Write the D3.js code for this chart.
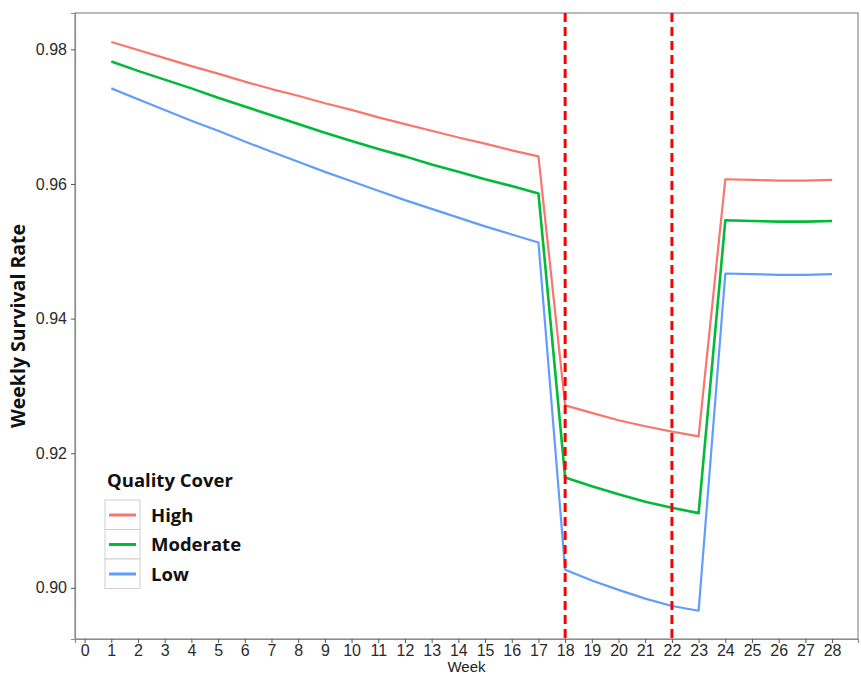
<!DOCTYPE html>
<html>
<head>
<meta charset="utf-8">
<script src="https://cdn.jsdelivr.net/npm/d3@7"></script>
<style>
  body { margin: 0; background: #fff; }
  svg { display: block; }
  .tick text { font-family: "Liberation Sans", Arial, sans-serif; font-size: 16px; fill: #2b2b2b; }
</style>
</head>
<body>
<div id="chart"></div>
<script>
// weeks and survival rates per cover quality
var weeks = d3.range(1, 29);
var high = [0.9811, 0.9799, 0.9787, 0.9775, 0.9764, 0.9752, 0.9741, 0.9731, 0.9720, 0.9710,
    0.9699, 0.9689, 0.9679, 0.9669, 0.9660, 0.9650, 0.9641,
    0.9271, 0.9260, 0.9249, 0.9240, 0.9232, 0.9225,
    0.9607, 0.9606, 0.9605, 0.9605, 0.9606];
var moderate = [0.9782, 0.9768, 0.9755, 0.9742, 0.9728, 0.9715, 0.9702, 0.9689, 0.9676, 0.9664,
    0.9652, 0.9641, 0.9629, 0.9618, 0.9607, 0.9597, 0.9586,
    0.9164, 0.9151, 0.9139, 0.9128, 0.9119, 0.9111,
    0.9546, 0.9545, 0.9544, 0.9544, 0.9545];
var low = [0.9742, 0.9726, 0.9710, 0.9694, 0.9679, 0.9663, 0.9648, 0.9633, 0.9618, 0.9604,
    0.9590, 0.9576, 0.9563, 0.9550, 0.9537, 0.9525, 0.9513,
    0.9027, 0.9011, 0.8997, 0.8984, 0.8973, 0.8966,
    0.9467, 0.9466, 0.9465, 0.9465, 0.9466];
var seriesNames = ["High", "Moderate", "Low"];
var seriesColors = ["#F8766D", "#00BA38", "#619CFF"];
var markerWeeks = [18, 22];
var xTicks = d3.range(0, 29);
var yTicks = [0.90, 0.92, 0.94, 0.96, 0.98];

var W = 861, H = 674;
var panel = {left: 75, right: 858, top: 13, bottom: 639};

var svg = d3.select("#chart").append("svg")
    .attr("width", W).attr("height", H);

var x = d3.scaleLinear().domain([-0.36, 28.97]).range([panel.left, panel.right]);
var y = d3.scaleLinear().domain([0.8924, 0.9854]).range([panel.bottom, panel.top]);

// panel border
svg.append("rect")
    .attr("x", panel.left).attr("y", panel.top)
    .attr("width", panel.right - panel.left)
    .attr("height", panel.bottom - panel.top)
    .attr("fill", "none")
    .attr("stroke", "#8c8c8c")
    .attr("stroke-width", 1.2);

// axes
var xAxis = svg.append("g")
    .attr("transform", "translate(0," + panel.bottom + ")")
    .call(d3.axisBottom(x).tickValues(xTicks).tickSize(4).tickPadding(2).tickFormat(d3.format("d")));
var yAxis = svg.append("g")
    .attr("transform", "translate(" + panel.left + ",0)")
    .call(d3.axisLeft(y).tickValues(yTicks).tickSize(4).tickPadding(4).tickFormat(d3.format(".2f")));
[xAxis, yAxis].forEach(function (a) {
    a.select(".domain").attr("stroke", "#8c8c8c").attr("stroke-width", 1.2);
    a.selectAll(".tick line").attr("stroke", "#555");
});

// series lines
var series = [high, moderate, low];
var line = d3.line()
    .x(function (d, i) { return x(weeks[i]); })
    .y(function (d) { return y(d); });
series.forEach(function (s, i) {
    svg.append("path")
        .datum(s)
        .attr("d", line)
        .attr("fill", "none")
        .attr("stroke", seriesColors[i])
        .attr("stroke-width", i === 1 ? 2.6 : 2.2)
        .attr("stroke-linejoin", "round");
});

// dashed week markers
svg.selectAll(".marker")
    .data(markerWeeks)
    .enter().append("line")
    .attr("class", "marker")
    .attr("x1", function (d) { return x(d); })
    .attr("x2", function (d) { return x(d); })
    .attr("y1", panel.top)
    .attr("y2", panel.bottom)
    .attr("stroke", "#ff0000")
    .attr("stroke-width", 3)
    .attr("stroke-dasharray", "9,5");

// axis titles
svg.append("text")
    .attr("x", (panel.left + panel.right) / 2)
    .attr("y", 672)
    .attr("text-anchor", "middle")
    .style("font-family", "Liberation Sans, Arial, sans-serif")
    .style("font-size", "15px")
    .style("fill", "#222")
    .text("Week");

svg.append("text")
    .attr("transform", "translate(25," + ((panel.top + panel.bottom) / 2) + ") rotate(-90)")
    .attr("text-anchor", "middle")
    .style("font-family", "Open Sans, sans-serif")
    .style("font-weight", "bold")
    .style("font-size", "19.5px")
    .style("fill", "#111")
    .text("Weekly Survival Rate");

// legend
var lg = svg.append("g").attr("transform", "translate(105,470)");
lg.append("text")
    .attr("x", 2).attr("y", 17)
    .style("font-family", "Open Sans, sans-serif")
    .style("font-weight", "bold")
    .style("font-size", "18.5px")
    .style("fill", "#111")
    .text("Quality Cover");
seriesNames.forEach(function (name, i) {
    var gy = 30 + i * 29.5;
    lg.append("rect")
        .attr("x", 0).attr("y", gy)
        .attr("width", 35).attr("height", 29.5)
        .attr("fill", "#fff")
        .attr("stroke", "#cfcfcf");
    lg.append("line")
        .attr("x1", 4).attr("x2", 31)
        .attr("y1", gy + 15).attr("y2", gy + 15)
        .attr("stroke", seriesColors[i])
        .attr("stroke-width", 3);
    lg.append("text")
        .attr("x", 46).attr("y", gy + 15)
        .attr("dy", "0.36em")
        .style("font-family", "Open Sans, sans-serif")
        .style("font-weight", "bold")
        .style("font-size", "18.5px")
        .style("fill", "#111")
        .text(name);
});
</script>
</body>
</html>
